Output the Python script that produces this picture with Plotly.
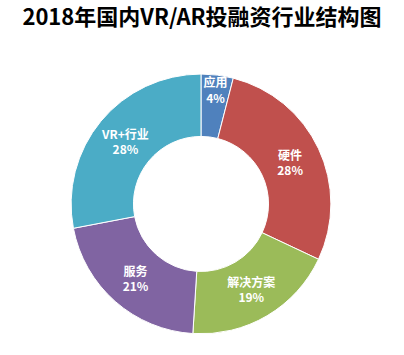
import plotly.graph_objects as go

labels = ["应用", "硬件", "解决方案", "服务", "VR+行业"]
values = [4, 28, 19, 21, 28]
colors = ["#4F81BD", "#C0504D", "#9BBB59", "#8064A2", "#4BACC6"]

texts = [f"<b>{l}</b><br><b>{v}%</b>" for l, v in zip(labels, values)]

fig = go.Figure(go.Pie(
    labels=labels, values=values, text=texts,
    textinfo="text", textposition="inside", insidetextorientation="horizontal",
    hole=0.52, sort=False, direction="clockwise", rotation=0,
    marker=dict(colors=colors, line=dict(color="white", width=1)),
    textfont=dict(color="white", size=12, family="Noto Sans CJK SC"),
    domain=dict(x=[0.176, 0.819], y=[0.059, 0.792]),
    showlegend=False,
))
fig.update_layout(
    width=404, height=355,
    margin=dict(l=0, r=0, t=0, b=0),
    paper_bgcolor="white",
    title=dict(text="<b>2018年国内VR/AR投融资行业结构图</b>", x=0.5, xanchor="center",
               y=0.95, yanchor="middle",
               font=dict(size=22, color="black", family="Noto Sans CJK SC")),
    uniformtext=dict(minsize=12, mode="show"),
)
fig.write_html("out.html")
